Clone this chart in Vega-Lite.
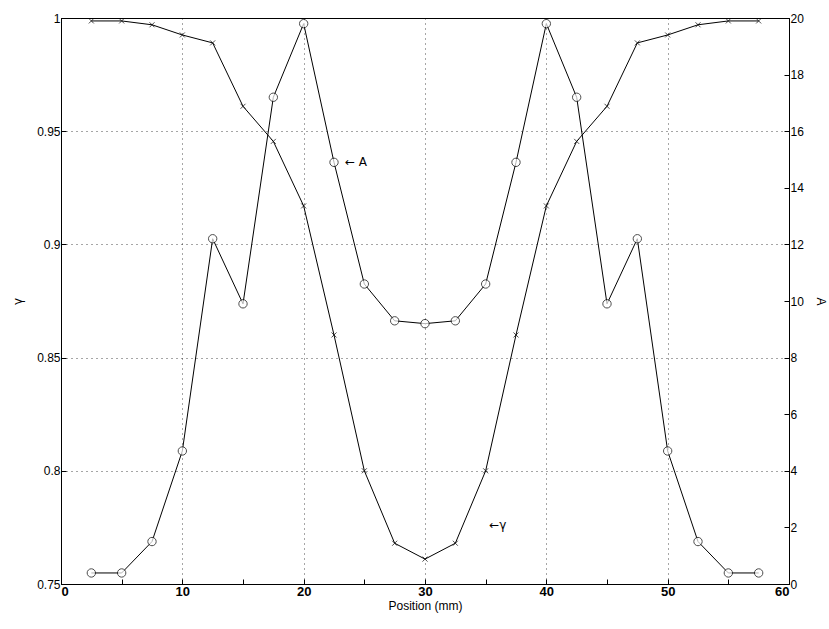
{
  "$schema": "https://vega.github.io/schema/vega-lite/v6.json",
  "width": 728,
  "height": 566,
  "padding": {"left": 11, "top": 12, "right": 8, "bottom": 5},
  "background": "white",
  "config": {
    "font": "Liberation Sans",
    "view": {"stroke": "black", "strokeWidth": 1},
    "axis": {"labelFontSize": 12, "titleFontSize": 12, "labelColor": "black", "titleColor": "black", "domainColor": "black", "tickColor": "black", "labelFont": "Liberation Sans", "titleFont": "Liberation Sans", "titleFontWeight": "normal", "ticks": true, "tickSize": -5, "labelPadding": 6}
  },
  "datasets": {
    "pts": [
      {"x": 2.5, "g": 0.9987, "A": 0.39},
      {"x": 5, "g": 0.9987, "A": 0.39},
      {"x": 7.5, "g": 0.997, "A": 1.5},
      {"x": 10, "g": 0.9925, "A": 4.7},
      {"x": 12.5, "g": 0.989, "A": 12.2},
      {"x": 15, "g": 0.961, "A": 9.9},
      {"x": 17.5, "g": 0.9455, "A": 17.2},
      {"x": 20, "g": 0.917, "A": 19.8},
      {"x": 22.5, "g": 0.86, "A": 14.9},
      {"x": 25, "g": 0.8, "A": 10.6},
      {"x": 27.5, "g": 0.768, "A": 9.3},
      {"x": 30, "g": 0.761, "A": 9.2},
      {"x": 32.5, "g": 0.768, "A": 9.3},
      {"x": 35, "g": 0.8, "A": 10.6},
      {"x": 37.5, "g": 0.86, "A": 14.9},
      {"x": 40, "g": 0.917, "A": 19.8},
      {"x": 42.5, "g": 0.9455, "A": 17.2},
      {"x": 45, "g": 0.961, "A": 9.9},
      {"x": 47.5, "g": 0.989, "A": 12.2},
      {"x": 50, "g": 0.9925, "A": 4.7},
      {"x": 52.5, "g": 0.997, "A": 1.5},
      {"x": 55, "g": 0.9987, "A": 0.39},
      {"x": 57.5, "g": 0.9987, "A": 0.39}
    ]
  },
  "layer": [
    {
      "layer": [
        {"data": {"name": "pts"}, "mark": {"type": "line", "color": "black", "strokeWidth": 1}},
        {"data": {"name": "pts"}, "mark": {"type": "point", "shape": "M-1,-1L1,1M-1,1L1,-1", "color": "black", "filled": false, "size": 25, "strokeWidth": 1}},
        {"data": {"values": [{"x": 35.3, "g": 0.776, "t": "←γ"}]}, "mark": {"type": "text", "align": "left", "fontSize": 12, "font": "DejaVu Sans"}, "encoding": {"text": {"field": "t"}}}
      ],
      "encoding": {
        "x": {"field": "x", "type": "quantitative", "scale": {"domain": [0, 60], "nice": false}, "title": "Position (mm)", "axis": {"values": [0, 2.5, 5, 7.5, 10, 12.5, 15, 17.5, 20, 22.5, 25, 27.5, 30, 32.5, 35, 37.5, 40, 42.5, 45, 47.5, 50, 52.5, 55, 57.5, 60], "labelExpr": "datum.value % 10 == 0 ? datum.label : ''", "grid": true, "gridDash": [1, 4], "gridColor": "black", "gridOpacity": {"condition": {"test": "datum.value % 10 == 0", "value": 0.7}, "value": 0}, "labelFontWeight": "bold", "labelFontSize": 13, "titlePadding": 2}},
        "y": {"field": "g", "type": "quantitative", "scale": {"domain": [0.75, 1], "nice": false, "zero": false}, "title": "γ", "axis": {"values": [0.75, 0.8, 0.85, 0.9, 0.95, 1], "format": "~g", "grid": true, "gridDash": [1, 4], "gridColor": "black", "gridOpacity": 0.7, "titlePadding": 12, "titleFont": "DejaVu Sans"}}
      }
    },
    {
      "layer": [
        {"data": {"name": "pts"}, "mark": {"type": "line", "color": "black", "strokeWidth": 1}},
        {"data": {"name": "pts"}, "mark": {"type": "point", "shape": "circle", "color": "black", "fill": "white", "filled": false, "size": 70, "strokeWidth": 1}},
        {"data": {"values": [{"x": 23.4, "A": 14.9, "t": "← A"}]}, "mark": {"type": "text", "align": "left", "fontSize": 12, "font": "DejaVu Sans"}, "encoding": {"text": {"field": "t"}}}
      ],
      "encoding": {
        "x": {"field": "x", "type": "quantitative", "scale": {"domain": [0, 60], "nice": false}},
        "y": {"field": "A", "type": "quantitative", "scale": {"domain": [0, 20], "nice": false}, "title": "A", "axis": {"orient": "right", "values": [0, 2, 4, 6, 8, 10, 12, 14, 16, 18, 20], "grid": false, "titlePadding": 10}}
      }
    }
  ],
  "resolve": {"scale": {"y": "independent"}}
}
